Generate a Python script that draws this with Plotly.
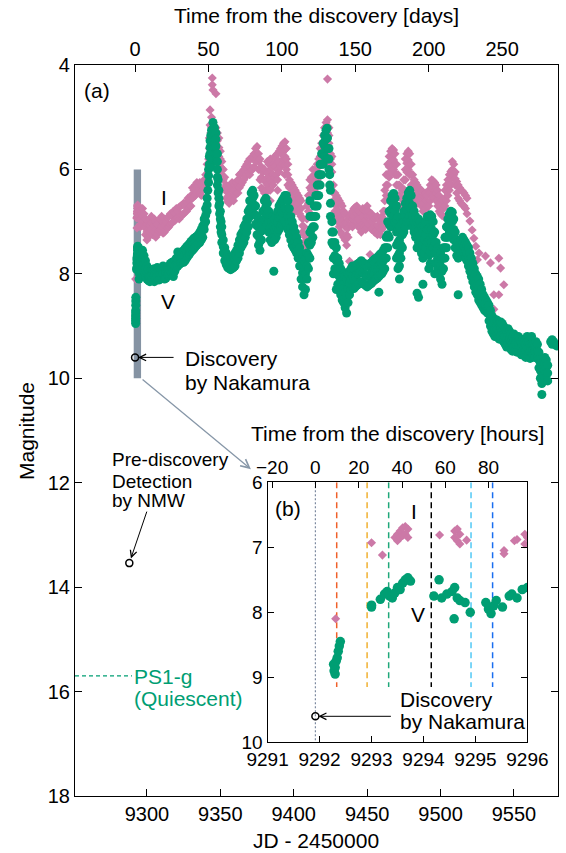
import plotly.graph_objects as go

# ---------------- data ----------------
disc_jd = [9291.92]          # discovery by Nakamura (JD - 2450000)
disc_mag = [9.60]
nmw_jd = [9288.0]            # pre-discovery detection by NMW
nmw_mag = [13.54]
ps1_g_mag = 15.70            # quiescent PS1-g magnitude
event_jd = [9292.33, 9292.915, 9293.33, 9294.15, 9294.915, 9295.33]
event_colors = ["#f0602a", "#f0b030", "#1fa87a", "#000000", "#50c8f5", "#1a6ef0"]

# V band: (JD, mag, mag, ...)
v_rows = [
    (9292.27, 8.80), (9292.28, 8.90), (9292.30, 8.95, 8.85), (9292.32, 8.75), (9292.34, 8.70),
    (9292.36, 8.60), (9292.38, 8.52), (9292.40, 8.45),
    (9293.00, 7.89, 7.92), (9293.17, 7.80), (9293.25, 7.72), (9293.30, 7.68), (9293.35, 7.75),
    (9293.40, 7.78), (9293.45, 7.70), (9293.50, 7.62), (9293.55, 7.65), (9293.60, 7.55),
    (9293.65, 7.50), (9293.70, 7.47), (9293.75, 7.52),
    (9294.20, 7.75), (9294.30, 7.50), (9294.35, 7.78), (9294.45, 7.72), (9294.55, 7.68),
    (9294.59, 8.10), (9294.60, 7.62), (9294.65, 7.78), (9294.70, 7.82), (9294.80, 7.85), (9294.90, 8.00),
    (9295.20, 7.85), (9295.25, 7.95), (9295.30, 8.02), (9295.35, 7.90), (9295.40, 7.82),
    (9295.52, 7.92), (9295.65, 7.75), (9295.70, 7.72), (9295.80, 7.78), (9295.90, 7.65), (9296.00, 7.62),
    (9297, 7.55, 7.70, 7.85), (9298, 7.65, 7.80, 7.95), (9299, 7.75, 7.90, 8.05), (9300, 7.85, 7.98, 8.10),
    (9301, 7.90, 8.02, 8.13), (9302, 7.95, 8.05, 8.15), (9303, 7.93, 8.03, 8.12), (9304, 7.92, 8.01, 8.10),
    (9305, 7.90, 8.03, 8.15), (9306, 7.95, 8.10), (9307, 7.88, 7.97, 8.05), (9308, 7.90, 8.12),
    (9309, 7.92, 8.00, 8.10), (9310, 7.90, 8.05), (9311, 7.85, 7.93, 8.00), (9312, 7.88, 8.10),
    (9313, 7.92, 8.00, 8.08), (9314, 7.88, 8.02), (9315, 7.85, 7.93, 8.00), (9316, 7.80, 7.95),
    (9317, 7.78, 7.88, 7.98), (9318, 7.82, 8.05), (9319, 7.75, 7.85, 7.95), (9320, 7.70, 7.88),
    (9321, 7.58, 7.72, 7.85), (9322, 7.65, 7.82), (9323, 7.60, 7.70, 7.80), (9324, 7.58, 7.78),
    (9325, 7.55, 7.66, 7.78), (9326, 7.52, 7.75), (9327, 7.48, 7.60, 7.70), (9328, 7.45, 7.66),
    (9329, 7.42, 7.52, 7.62), (9330, 7.38, 7.58), (9331, 7.35, 7.45, 7.55), (9332, 7.32, 7.52),
    (9333, 7.30, 7.40, 7.48), (9334, 7.28, 7.45), (9335, 7.25, 7.33, 7.42), (9336, 7.20, 7.40),
    (9337, 7.15, 7.25, 7.35), (9338, 7.08, 7.30), (9339, 6.95, 7.05, 7.15), (9340, 6.75, 6.88, 7.00),
    (9341, 6.55, 6.68, 6.80), (9341.5, 6.40), (9342, 6.00, 6.12, 6.25), (9342.5, 5.75, 5.90),
    (9343, 5.45, 5.58, 5.70), (9343.5, 5.95, 5.35), (9344, 5.25, 5.38, 5.50), (9344.5, 5.80, 5.65),
    (9345, 5.10, 5.22, 5.35), (9345.5, 5.60, 5.48), (9346, 5.20, 5.32, 5.45), (9346.5, 5.70, 5.58),
    (9347, 5.30, 5.42, 5.55), (9347.5, 5.85, 5.70), (9348, 5.70, 5.85, 6.00, 6.15, 6.30),
    (9348.5, 6.20, 6.45), (9349, 6.40, 6.55, 6.70), (9349.5, 6.65, 6.85), (9350, 6.80, 6.95, 7.10),
    (9350.5, 7.00, 7.20), (9351, 7.10, 7.25, 7.40), (9352, 7.35, 7.48, 7.60), (9353, 7.50, 7.62, 7.75),
    (9354, 7.60, 7.71, 7.82), (9355, 7.65, 7.76, 7.88), (9356, 7.70, 7.80, 7.90), (9357, 7.72, 7.82, 7.92),
    (9358, 7.75, 7.90), (9359, 7.70, 7.80, 7.88), (9360, 7.60, 7.72, 7.85), (9361, 7.55, 7.65, 7.75),
    (9362, 7.45, 7.58, 7.70), (9363, 7.35, 7.48, 7.60), (9364, 7.25, 7.38, 7.50), (9365, 7.20, 7.33, 7.45),
    (9366, 7.10, 7.25, 7.40), (9367, 7.05, 7.18, 7.30), (9368, 6.95, 7.08, 7.20), (9369, 6.80, 6.95, 7.10),
    (9370, 6.60, 6.75, 6.90), (9371, 6.45, 6.62, 6.80), (9372, 6.40, 6.55, 6.70), (9373, 6.50, 6.68, 6.85),
    (9374, 6.70, 6.88, 7.05), (9375, 6.90, 7.08, 7.25), (9376, 7.10, 7.28, 7.45), (9377, 7.20, 7.38, 7.55),
    (9378, 7.00, 7.18, 7.35), (9379, 6.80, 6.98, 7.15), (9380, 6.60, 6.78, 6.95), (9381, 6.55, 6.72, 6.90),
    (9382, 6.65, 6.85, 7.05), (9383, 6.80, 7.00, 7.20), (9384, 6.90, 7.12, 7.35), (9385, 7.00, 7.20, 7.40),
    (9386, 6.90, 7.10, 7.30), (9386.4, 7.95), (9387, 6.95, 7.15, 7.35), (9388, 6.90, 7.10, 7.30),
    (9389, 6.80, 7.00, 7.20), (9390, 6.70, 6.92, 7.15), (9391, 6.65, 6.88, 7.10), (9392, 6.60, 6.82, 7.05),
    (9393, 6.55, 6.78, 7.00), (9394, 6.50, 6.75, 7.00), (9395, 6.50, 6.78, 7.05), (9396, 6.60, 6.88, 7.15),
    (9397, 6.75, 7.00, 7.25), (9398, 6.90, 7.12, 7.35), (9399, 7.00, 7.22, 7.45), (9400, 7.10, 7.30, 7.50),
    (9401, 7.20, 7.38, 7.55), (9402, 7.30, 7.45, 7.60), (9403, 7.40, 7.55, 7.70), (9404, 7.50, 7.68, 7.85),
    (9405, 7.60, 7.85, 8.10), (9406, 7.70, 7.98, 8.25), (9407, 7.75, 8.08, 8.40), (9408, 7.70, 8.00, 8.30),
    (9409, 7.60, 7.85, 8.10), (9410, 7.40, 7.65, 7.90), (9411, 6.60, 6.90, 7.20, 7.45, 7.70),
    (9412, 6.90, 7.15, 7.40), (9413, 6.90, 7.10, 7.30), (9414, 6.70, 6.90, 7.10), (9415, 6.50, 6.70, 6.90),
    (9416, 6.30, 6.50, 6.70), (9417, 6.10, 6.30, 6.50), (9418, 5.90, 6.10, 6.30), (9419, 5.70, 5.90, 6.10),
    (9420, 5.50, 5.70, 5.90), (9421, 5.35, 5.55, 5.75), (9422, 5.25, 5.42, 5.60), (9422.7, 5.21),
    (9423, 5.40, 5.60, 5.80), (9424, 5.60, 5.80, 6.00), (9424.5, 6.10, 6.30), (9425, 6.40, 6.65, 6.90),
    (9426, 7.00, 7.20, 7.40), (9427, 7.20, 7.45, 7.70, 8.00), (9428, 7.40, 7.65, 7.90),
    (9429, 7.50, 7.75, 8.00, 8.30), (9430, 7.70, 7.95, 8.20), (9431, 7.80, 8.05, 8.30),
    (9432, 7.90, 8.15, 8.40), (9433, 7.95, 8.22, 8.50), (9434, 8.00, 8.28, 8.55), (9435, 8.05, 8.35, 8.65),
    (9436, 8.10, 8.42, 8.75), (9437, 8.00, 8.28, 8.55), (9438, 7.95, 8.18, 8.40), (9439, 7.90, 8.10, 8.30),
    (9440, 7.85, 8.05, 8.25), (9441, 7.90, 8.10, 8.28), (9442, 7.85, 8.05, 8.25), (9443, 7.82, 8.00, 8.22),
    (9444, 7.80, 8.00, 8.20), (9445, 7.78, 7.98, 8.18), (9446, 7.75, 7.95, 8.15), (9447, 7.78, 7.98, 8.18),
    (9448, 7.80, 8.00, 8.20), (9449, 7.82, 8.02, 8.22), (9450, 7.85, 8.05, 8.25), (9451, 7.82, 8.02, 8.22),
    (9452, 7.80, 8.00, 8.20), (9453, 7.78, 7.98, 8.18), (9454, 7.75, 7.95, 8.15), (9455, 7.72, 7.92, 8.12),
    (9456, 7.70, 7.90, 8.10), (9457, 7.68, 7.88, 8.08), (9458, 7.65, 7.85, 8.05, 8.35),
    (9459, 7.62, 7.82, 8.02), (9460, 7.60, 7.80, 8.00), (9461, 7.55, 7.75, 7.95), (9462, 7.50, 7.70, 7.90),
    (9463, 7.30, 7.50, 7.70), (9464, 7.00, 7.25, 7.50), (9465, 6.80, 7.05, 7.30), (9466, 6.60, 6.85, 7.10),
    (9467, 6.50, 6.75, 7.00), (9468, 6.46, 6.68, 6.90), (9469, 6.55, 6.78, 7.00),
    (9470, 6.70, 6.95, 7.20, 7.45, 7.70), (9471, 6.90, 7.15, 7.40, 7.65, 7.90),
    (9472, 7.10, 7.35, 7.60, 7.85, 8.10), (9473, 7.20, 7.45, 7.70), (9474, 7.00, 7.25, 7.50),
    (9475, 6.80, 7.00, 7.20), (9476, 6.65, 6.88, 7.10), (9477, 6.55, 6.78, 7.00), (9478, 6.45, 6.70, 6.95),
    (9479, 6.40, 6.65, 6.90), (9480, 6.50, 6.75, 7.00), (9481, 6.70, 6.90, 7.10), (9482, 6.80, 7.00, 7.20),
    (9483, 6.90, 7.10, 7.30), (9484, 7.00, 7.25, 7.50, 8.37), (9485, 6.95, 7.18, 7.40, 8.45),
    (9486, 7.00, 7.25, 7.50), (9487, 7.10, 7.35, 7.60), (9488, 7.20, 7.45, 7.70, 8.20),
    (9489, 7.10, 7.35, 7.60), (9490, 7.00, 7.25, 7.50), (9491, 6.90, 7.15, 7.40),
    (9492, 6.90, 7.15, 7.40, 7.65, 7.90), (9493, 6.87, 7.10, 7.35, 7.58, 7.80), (9494, 6.90, 7.15, 7.40),
    (9495, 7.00, 7.25, 7.50), (9496, 7.20, 7.40, 7.60, 7.80, 8.00), (9497, 7.40, 7.60, 7.80),
    (9498, 7.50, 7.70, 7.90), (9499, 7.55, 7.78, 8.00), (9500, 7.60, 7.85, 8.10), (9501, 7.70, 7.95, 8.20),
    (9502, 7.50, 7.70, 7.90), (9503, 7.30, 7.50, 7.70), (9504, 7.10, 7.30, 7.50), (9505, 6.95, 7.12, 7.30),
    (9506, 6.85, 7.02, 7.20), (9507, 6.80, 6.98, 7.15), (9508, 6.82, 7.00, 7.20), (9509, 6.95, 7.15, 7.35),
    (9510, 7.20, 7.35, 7.50), (9511, 7.35, 7.50, 7.65), (9512, 7.40, 7.55, 7.70, 8.40),
    (9513, 7.40, 7.52, 7.65), (9514, 7.35, 7.48, 7.60), (9515, 7.30, 7.42, 7.55), (9516, 7.35, 7.48, 7.60),
    (9517, 7.40, 7.55, 7.70), (9518, 7.45, 7.60, 7.75), (9519, 7.50, 7.68, 7.85), (9520, 7.60, 7.78, 7.95),
    (9521, 7.70, 7.88, 8.05), (9522, 7.80, 7.98, 8.15), (9523, 7.90, 8.08, 8.25), (9524, 8.00, 8.18, 8.35),
    (9525, 8.05, 8.22, 8.40), (9526, 8.10, 8.30, 8.50), (9527, 8.20, 8.38, 8.55), (9528, 8.30, 8.45, 8.60),
    (9529, 8.40, 8.52, 8.65), (9530, 8.45, 8.58, 8.70), (9531, 8.50, 8.61, 8.72), (9532, 8.55, 8.65, 8.75),
    (9533, 8.60, 8.75, 8.90), (9534, 8.70, 8.85, 9.00), (9535, 8.80, 8.95, 9.10), (9536, 8.85, 9.00, 9.15),
    (9537, 8.90, 9.05, 9.20), (9538, 8.88, 9.03, 9.18), (9539, 8.90, 9.06, 9.22), (9540, 8.95, 9.10, 9.25),
    (9541, 8.92, 9.06, 9.20), (9542, 8.95, 9.10, 9.25), (9543, 9.00, 9.15, 9.30), (9544, 9.05, 9.20, 9.35),
    (9545, 9.10, 9.25, 9.40), (9546, 9.05, 9.20, 9.35), (9547, 9.10, 9.25, 9.40), (9548, 9.15, 9.30, 9.45),
    (9549, 9.20, 9.34, 9.48), (9550, 9.15, 9.28, 9.40), (9551, 9.20, 9.32, 9.45), (9552, 9.25, 9.38, 9.50),
    (9553, 9.20, 9.32, 9.45), (9554, 9.25, 9.38, 9.50), (9555, 9.30, 9.42, 9.55), (9556, 9.25, 9.36, 9.48),
    (9557, 9.30, 9.41, 9.52), (9558, 9.35, 9.48, 9.60), (9559, 9.20, 9.30, 9.40), (9560, 9.30, 9.42, 9.55),
    (9561, 9.35, 9.48, 9.62), (9562, 9.20, 9.35, 9.50), (9563, 9.35, 9.45, 9.55), (9564, 9.40, 9.50, 9.60),
    (9565, 9.30, 9.40, 9.50), (9566, 9.35, 9.48, 9.60), (9567, 9.50, 9.65, 9.80), (9568, 9.70, 9.85, 10.00),
    (9569, 9.80, 9.95, 10.10, 10.31), (9570, 9.70, 9.82, 9.95), (9571, 9.60, 9.72, 9.85),
    (9572, 9.65, 9.78, 9.90), (9573, 9.75, 9.90, 10.05), (9575, 9.30), (9576, 9.26, 9.35), (9577, 9.30),
    (9578, 9.35), (9579, 9.38),
]

# I band: (JD, mag, mag, ...)
i_rows = [
    (9292.31, 8.10), (9293.00, 6.93), (9293.21, 7.12), (9293.45, 6.85), (9293.50, 6.80, 6.90),
    (9293.55, 6.75, 6.85), (9293.60, 6.70, 6.82), (9293.65, 6.68, 6.80), (9293.70, 6.72, 6.85),
    (9294.31, 6.81), (9294.60, 6.75, 6.85), (9294.65, 6.72, 6.90), (9294.70, 6.80, 6.95), (9294.83, 6.89),
    (9295.55, 7.05, 7.10), (9295.75, 6.90), (9295.80, 6.88), (9295.95, 6.80, 6.95), (9296.00, 6.85),
    (9297, 6.75, 6.88, 7.00), (9298, 6.85, 6.98, 7.10), (9299, 6.95, 7.10, 7.25), (9300, 7.05, 7.20, 7.35),
    (9301, 7.00, 7.15, 7.30), (9302, 6.95, 7.08, 7.20), (9303, 6.90, 7.02, 7.15), (9304, 7.00, 7.25),
    (9305, 6.95, 7.08, 7.20), (9306, 7.00, 7.15, 7.30), (9307, 7.05, 7.25), (9308, 6.98, 7.18),
    (9309, 6.95, 7.15), (9310, 6.90, 7.10), (9311, 7.00, 7.22), (9312, 6.95, 7.08, 7.20), (9313, 7.00, 7.15),
    (9314, 6.92, 7.12), (9315, 6.90, 7.10), (9316, 6.85, 7.05), (9317, 6.88, 7.02), (9318, 6.80, 7.00),
    (9319, 6.85, 6.98), (9320, 6.75, 6.95), (9321, 6.80, 6.92), (9322, 6.72, 6.95), (9323, 6.70, 6.90),
    (9324, 6.68, 6.88), (9325, 6.65, 6.85), (9326, 6.70, 6.82), (9327, 6.62, 6.80), (9328, 6.55, 6.75),
    (9329, 6.60, 6.72), (9330, 6.50, 6.70), (9331, 6.35, 6.55), (9332, 6.40, 6.52), (9333, 6.30, 6.50),
    (9334, 6.25, 6.45), (9335, 6.32, 6.42), (9336, 6.25, 6.45), (9337, 6.30, 6.50), (9338, 6.25, 6.40),
    (9339, 6.20, 6.35), (9340, 6.10, 6.25), (9341, 5.90, 6.10), (9342, 5.80, 6.00),
    (9342.5, 5.40, 5.60), (9343, 4.86, 5.15), (9343.5, 5.30), (9344, 5.00, 5.20), (9344.5, 4.25, 4.38),
    (9345, 4.48, 5.10), (9346, 5.25, 5.45), (9347, 4.55, 5.20, 5.50),
    (9348, 5.30, 5.45, 5.60), (9349, 5.40, 5.58, 5.75), (9350, 5.65, 5.80, 5.95), (9351, 5.85, 5.98, 6.10),
    (9352, 6.00, 6.20), (9353, 6.15, 6.35), (9354, 6.30, 6.42, 6.55), (9355, 6.40, 6.62),
    (9356, 6.35, 6.50, 6.65), (9357, 6.30, 6.58), (9358, 6.25, 6.40, 6.55), (9359, 6.40, 6.60),
    (9360, 6.30, 6.50), (9361, 6.25, 6.45), (9362, 6.20, 6.32, 6.45), (9363, 6.10, 6.22, 6.35),
    (9364, 6.08, 6.30), (9365, 6.05, 6.25), (9366, 6.00, 6.20), (9367, 5.95, 6.15), (9368, 5.90, 6.10),
    (9369, 5.85, 6.05), (9370, 5.80, 5.95, 6.10), (9371, 5.78, 6.02), (9372, 5.75, 6.00), (9373, 5.70, 5.95),
    (9374, 5.60, 5.85), (9375, 5.56, 5.80), (9376, 5.70, 5.85, 6.00), (9377, 5.80, 6.00, 6.20),
    (9378, 5.95, 6.15, 6.35), (9379, 6.05, 6.40), (9380, 6.00, 6.22, 6.45), (9381, 6.20, 6.40, 6.60),
    (9382, 5.85, 6.08, 6.30), (9383, 5.90, 6.15, 6.40), (9384, 5.80, 6.00, 6.20, 6.40, 6.60),
    (9385, 5.95, 6.25), (9386, 5.90, 6.10, 6.30), (9387, 5.75, 5.95, 6.15), (9388, 5.80, 6.10),
    (9389, 5.70, 5.85, 6.00, 6.20, 6.40), (9390, 5.65, 5.85, 6.05), (9391, 5.60, 5.95),
    (9392, 5.55, 5.72, 5.90), (9393, 5.50, 5.65, 5.80), (9394, 5.47, 5.62, 5.75, 5.92, 6.10),
    (9395, 5.60, 5.80, 6.00), (9396, 5.90, 6.10, 6.30), (9397, 6.20, 6.35, 6.50), (9398, 6.25, 6.55),
    (9399, 6.30, 6.45, 6.60), (9400, 6.35, 6.52, 6.70), (9401, 6.40, 6.60, 6.80), (9402, 6.45, 6.75),
    (9403, 6.50, 6.65, 6.80), (9404, 6.55, 6.85), (9405, 6.60, 6.75, 6.90), (9406, 6.95, 7.08, 7.20),
    (9407, 7.10, 7.25, 7.40), (9408, 7.30, 7.48), (9409, 6.70, 6.95), (9410, 6.50, 6.65, 6.80),
    (9411, 6.20, 6.35, 6.50), (9412, 6.15, 6.40), (9413, 6.00, 6.15, 6.30), (9414, 6.10, 6.25, 6.40),
    (9415, 6.00, 6.30), (9416, 5.90, 6.05, 6.20), (9417, 5.80, 5.95, 6.10), (9418, 5.60, 5.75, 5.90),
    (9419, 5.50, 5.62, 5.75), (9420, 5.35, 5.48, 5.60), (9421, 5.20, 5.32, 5.45), (9422, 5.10, 5.22, 5.35),
    (9423, 4.27, 5.05, 5.18, 5.30), (9424, 5.20, 5.35, 5.50), (9425, 5.70, 5.80, 5.90),
    (9426, 5.75, 5.90, 6.05), (9427, 6.30, 6.45, 6.60), (9428, 6.45, 6.62, 6.80), (9429, 6.50, 6.70, 6.90),
    (9430, 6.55, 6.78, 7.00), (9431, 6.60, 6.85, 7.10), (9432, 6.65, 6.92, 7.20), (9433, 6.70, 6.98, 7.25),
    (9434, 6.80, 7.05, 7.30), (9435, 6.85, 7.10, 7.35), (9436, 7.05, 7.25, 7.45), (9437, 6.95, 7.12, 7.30),
    (9438, 6.90, 7.76), (9439, 6.85, 7.05), (9440, 6.80, 6.95, 7.10), (9441, 6.75, 6.90, 7.05),
    (9442, 6.72, 7.00), (9443, 6.70, 6.85, 7.00), (9444, 6.80, 6.95, 7.10), (9445, 6.82, 7.12),
    (9446, 6.85, 7.02, 7.20), (9447, 6.75, 6.90, 7.05), (9448, 6.78, 7.10), (9449, 6.80, 6.98, 7.15),
    (9450, 6.70, 6.90, 7.10), (9451, 6.80, 7.05), (9452, 6.90, 7.63), (9453, 6.85, 7.00, 7.15),
    (9454, 6.90, 7.12), (9455, 6.95, 7.08, 7.20), (9456, 6.92, 7.18), (9457, 6.90, 7.08, 7.25),
    (9458, 6.95, 7.20), (9459, 7.00, 7.12, 7.25), (9460, 6.90, 7.15), (9461, 6.80, 6.95, 7.10),
    (9462, 6.40, 6.60, 6.80), (9463, 6.10, 6.30, 6.50), (9464, 5.90, 6.10, 6.30), (9465, 5.75, 5.95, 6.15),
    (9466, 5.65, 5.85, 6.05), (9467, 5.60, 5.78, 5.95), (9468, 5.63, 5.82, 6.00), (9469, 5.70, 5.90, 6.10),
    (9470, 5.90, 6.10, 6.30, 6.55), (9471, 6.10, 6.30, 6.50), (9472, 6.30, 6.50, 6.70), (9473, 6.35, 6.72),
    (9474, 6.40, 6.58, 6.75), (9475, 6.20, 6.38, 6.55), (9476, 5.80, 6.00, 6.20), (9477, 5.70, 5.88, 6.05),
    (9478, 5.65, 5.82, 6.00), (9479, 5.70, 5.90, 6.10), (9480, 5.90, 6.10, 6.30), (9481, 6.10, 6.28, 6.45),
    (9482, 6.20, 6.38, 6.55), (9483, 6.25, 6.60), (9484, 6.30, 6.48, 6.65), (9485, 6.35, 6.60),
    (9486, 6.38, 6.65), (9487, 6.40, 6.55, 6.70), (9488, 6.50, 6.65, 6.80), (9489, 6.48, 6.78),
    (9490, 6.45, 6.60, 6.75), (9491, 6.50, 6.70, 6.90), (9492, 6.40, 6.70), (9493, 6.30, 6.45, 6.60),
    (9494, 6.20, 6.35, 6.50), (9495, 6.22, 6.52), (9496, 6.25, 6.40, 6.55), (9497, 6.30, 6.45, 6.60),
    (9498, 6.40, 6.70), (9499, 6.50, 6.65, 6.80), (9500, 6.55, 6.70, 6.85), (9501, 6.58, 6.88),
    (9502, 6.60, 6.75, 6.90), (9503, 6.40, 6.55, 6.70), (9504, 6.30, 6.60), (9505, 6.20, 6.35, 6.50),
    (9506, 6.10, 6.25, 6.40), (9507, 6.04, 6.18, 6.30), (9508, 5.85, 6.00), (9509, 5.90, 6.10),
    (9510, 6.05, 6.18, 6.30), (9511, 6.23, 6.45), (9512, 6.30, 6.55), (9513, 6.35, 6.60), (9514, 6.40, 6.65),
    (9515, 6.42, 6.68), (9516, 6.45, 6.70), (9517, 6.50, 6.75), (9518, 6.55, 6.85),
    (9520, 6.99), (9521.5, 7.16), (9522.7, 7.32), (9524, 7.47), (9526.2, 7.60), (9525.1, 7.73),
    (9530.6, 7.66), (9534, 7.79), (9536.3, 8.40, 8.68), (9539.7, 7.70, 8.40), (9540.9, 7.89), (9543.1, 8.21),
]


def flatten(rows):
    xs, ys = [], []
    for row in rows:
        for m in row[1:]:
            xs.append(row[0])
            ys.append(m)
    return xs, ys


v_jd, v_mag = flatten(v_rows)
i_jd, i_mag = flatten(i_rows)

D0 = disc_jd[0]
FONT = "Liberation Sans, Arial, sans-serif"
C_I = "#cc79a7"
C_V = "#009e73"

W, H = 566, 853
# plot-area pixel geometry (main)
L, R, T, B = 75, 558.3, 65, 796


def px(x):
    return (x - L) / (R - L)


def py(y):
    return (B - y) / (B - T)


fig = go.Figure()

# ---------------- main panel ----------------
fig.add_trace(go.Scatter(x=i_jd, y=i_mag, mode="markers", xaxis="x", yaxis="y",
                         marker=dict(symbol="diamond", size=7, color=C_I, line=dict(width=0)),
                         showlegend=False, hoverinfo="skip"))
fig.add_trace(go.Scatter(x=v_jd, y=v_mag, mode="markers", xaxis="x", yaxis="y",
                         marker=dict(symbol="circle", size=9, color=C_V, line=dict(width=0)),
                         showlegend=False, hoverinfo="skip"))
fig.add_trace(go.Scatter(x=disc_jd, y=disc_mag, mode="markers", xaxis="x", yaxis="y",
                         marker=dict(symbol="circle-open", size=7, color="black", line=dict(width=1.5)),
                         showlegend=False, hoverinfo="skip"))
fig.add_trace(go.Scatter(x=nmw_jd, y=nmw_mag, mode="markers", xaxis="x", yaxis="y",
                         marker=dict(symbol="circle-open", size=7, color="black", line=dict(width=1.5)),
                         showlegend=False, hoverinfo="skip"))
# top axis (days from discovery) - invisible helper trace
fig.add_trace(go.Scatter(x=[d - D0 for d in disc_jd], y=disc_mag, mode="markers", xaxis="x2", yaxis="y",
                         marker=dict(opacity=0), showlegend=False, hoverinfo="skip"))

# ---------------- inset ----------------
fig.add_trace(go.Scatter(x=i_jd, y=i_mag, mode="markers", xaxis="x3", yaxis="y3",
                         marker=dict(symbol="diamond", size=7, color=C_I, line=dict(width=0)),
                         showlegend=False, hoverinfo="skip"))
fig.add_trace(go.Scatter(x=v_jd, y=v_mag, mode="markers", xaxis="x3", yaxis="y3",
                         marker=dict(symbol="circle", size=9.5, color=C_V, line=dict(width=0)),
                         showlegend=False, hoverinfo="skip"))
fig.add_trace(go.Scatter(x=disc_jd, y=disc_mag, mode="markers", xaxis="x3", yaxis="y3",
                         marker=dict(symbol="circle-open", size=7, color="black", line=dict(width=1.5)),
                         showlegend=False, hoverinfo="skip"))
fig.add_trace(go.Scatter(x=[(d - D0) * 24 for d in disc_jd], y=disc_mag, mode="markers", xaxis="x4", yaxis="y3",
                         marker=dict(opacity=0), showlegend=False, hoverinfo="skip"))

# ---------------- shapes ----------------
shapes = []
shapes.append(dict(type="rect", xref="x", yref="y", x0=9291, x1=9296, y0=6, y1=10,
                   fillcolor="#8593a3", line=dict(width=0), layer="below"))
shapes.append(dict(type="line", xref="x", yref="y", x0=9251, x1=9289.8, y0=ps1_g_mag, y1=ps1_g_mag,
                   line=dict(color=C_V, width=1.3, dash="4px,3px")))
shapes.append(dict(type="line", xref="x3", yref="y3", x0=D0, x1=D0, y0=6, y1=10,
                   line=dict(color="#7d8aa0", width=1.2, dash="2px,2px"), layer="below"))
for t, c in zip(event_jd, event_colors):
    shapes.append(dict(type="line", xref="x3", yref="y3", x0=t, x1=t, y0=6, y1=9.15,
                       line=dict(color=c, width=1.5, dash="6px,4px"), layer="below"))

# ---------------- annotations ----------------
ann = []


def text(s, x, y, size=21, color="black", xanchor="left", yanchor="middle", angle=0):
    ann.append(dict(text=s, x=px(x), y=py(y), xref="paper", yref="paper", showarrow=False,
                    xanchor=xanchor, yanchor=yanchor, textangle=angle,
                    font=dict(family=FONT, size=size, color=color)))


text("Time from the discovery [days]", 316.7, 16, xanchor="center")
text("JD - 2450000", 316.5, 840, xanchor="center")
text("Magnitude", 26, 431, xanchor="center", angle=-90)
text("(a)", 82, 91)
text("I", 164, 197, xanchor="center")
text("V", 168.5, 301.5, xanchor="center")
text("Discovery", 183, 358)
text("by Nakamura", 183, 382)
text("Pre-discovery", 110, 459.5, size=19)
text("Detection", 110, 481, size=19)
text("by NMW", 110, 501, size=19)
text("PS1-g", 132, 676, color=C_V)
text("(Quiescent)", 132, 698, color=C_V)
text("Time from the discovery [hours]", 397.5, 433, xanchor="center")
text("(b)", 273, 508)
text("I", 414.5, 512, xanchor="center")
text("V", 418.5, 614.5, xanchor="center")
text("Discovery", 398.3, 699)
text("by Nakamura", 398.3, 721)

ann.append(dict(x=D0, y=disc_mag[0], xref="x", yref="y", ax=40, ay=0, text="", showarrow=True,
                arrowhead=5, arrowsize=1.3, arrowwidth=1, arrowcolor="black", standoff=3))
ann.append(dict(x=nmw_jd[0], y=nmw_mag[0], xref="x", yref="y", ax=18, ay=-53, text="", showarrow=True,
                arrowhead=5, arrowsize=1.3, arrowwidth=1, arrowcolor="black", standoff=5))
ann.append(dict(x=9370.8, y=11.74, xref="x", yref="y", ax=9296, ay=10, axref="x", ayref="y", text="",
                showarrow=True, arrowhead=5, arrowsize=1.3, arrowwidth=1.3, arrowcolor="#8797a8", standoff=0))
ann.append(dict(x=D0, y=disc_mag[0], xref="x3", yref="y3", ax=77, ay=0, text="", showarrow=True,
                arrowhead=5, arrowsize=1.3, arrowwidth=1, arrowcolor="black", standoff=3))

axis_common = dict(showgrid=False, zeroline=False, showline=True, linecolor="black", linewidth=1.2,
                   ticks="inside", tickcolor="black", tickwidth=1.2, automargin=False)

fig.update_layout(
    template="none",
    autosize=False,
    width=W, height=H,
    margin=dict(l=L, r=W - R, t=T, b=H - B, pad=0, autoexpand=False),
    paper_bgcolor="white", plot_bgcolor="white",
    font=dict(family=FONT, size=20, color="black"),
    showlegend=False,
    xaxis=dict(domain=[0, 1], anchor="y", range=[9251, 9580],
               tickvals=[9300, 9350, 9400, 9450, 9500, 9550], ticklen=7,
               tickfont=dict(size=20), mirror=False, **axis_common),
    xaxis2=dict(overlaying="x", side="top", anchor="y", range=[9251 - D0, 9580 - D0],
                tickvals=[0, 50, 100, 150, 200, 250], ticklen=7,
                tickfont=dict(size=20), **axis_common),
    yaxis=dict(domain=[0, 1], anchor="x", range=[18, 4],
               tickvals=[4, 6, 8, 10, 12, 14, 16, 18], ticklen=7,
               tickfont=dict(size=20), mirror="ticks", **axis_common),
    xaxis3=dict(domain=[px(267.7), px(527.7)], anchor="y3", range=[9291, 9296],
                tickvals=[9291, 9292, 9293, 9294, 9295, 9296], ticklen=6,
                tickfont=dict(size=19), mirror=False, **axis_common),
    xaxis4=dict(overlaying="x3", side="top", anchor="y3", range=[(9291 - D0) * 24, (9296 - D0) * 24],
                tickvals=[-20, 0, 20, 40, 60, 80], ticklen=6,
                tickfont=dict(size=19), **axis_common),
    yaxis3=dict(domain=[py(742.3), py(482.3)], anchor="x3", range=[10, 6],
                tickvals=[6, 7, 8, 9, 10], ticklen=6,
                tickfont=dict(size=19), mirror="ticks", **axis_common),
    shapes=shapes,
    annotations=ann,
)

fig.write_html(
    "out.html",
    config={"responsive": False, "displayModeBar": False},
    default_width="%dpx" % W, default_height="%dpx" % H,
    post_script="document.body.style.margin='0';document.body.style.overflow='hidden';",
)
